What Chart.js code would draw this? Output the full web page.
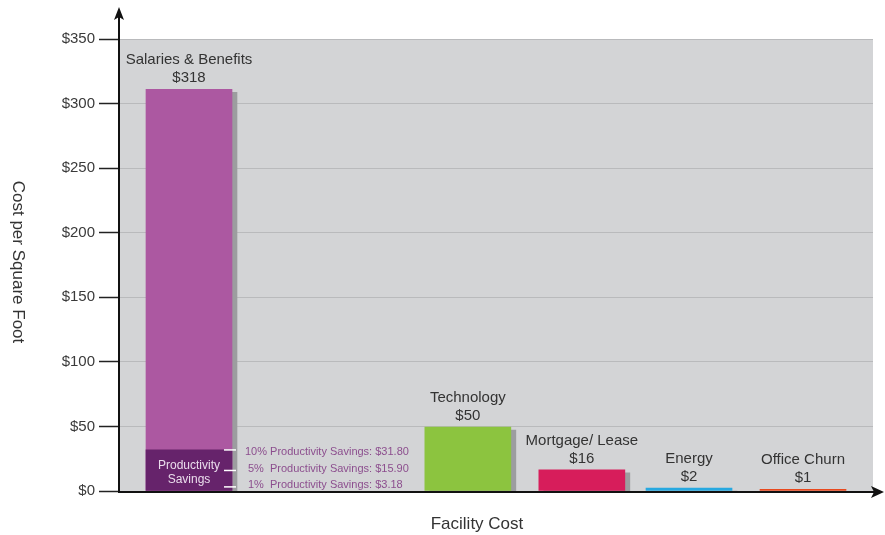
<!DOCTYPE html>
<html>
<head>
<meta charset="utf-8">
<script src="https://cdn.jsdelivr.net/npm/chart.js@4/dist/chart.umd.min.js"></script>
<style>
  body { margin: 0; background: #fff; }
  canvas { display: block; }
</style>
</head>
<body>
<canvas id="myChart" width="885" height="535"></canvas>
<script>
// chart data
const categories = ['Salaries & Benefits', 'Technology', 'Mortgage/ Lease', 'Energy', 'Office Churn'];
const costValues = [311, 49.5, 16.3, 2.3, 1.2];   // bar heights as drawn
const costLabels = ['$318', '$50', '$16', '$2', '$1'];
const savingsValues = [31.8, 15.9, 3.18];
const savingsLabels = ['10% Productivity Savings: $31.80', '5%  Productivity Savings: $15.90', '1%  Productivity Savings: $3.18'];
const yTicks = [0, 50, 100, 150, 200, 250, 300, 350];

// layout: where each bar sits on the (hidden) linear x axis
const slotX = [0.614, 3.06, 4.06, 5.0, 6.0];
const barColors = ['#ac58a1', '#8cc43f', '#d71d5b', '#27a8e0', '#e8491e'];
const savingsTextShift = [2, -1, -2];

const FONT = '"Liberation Sans", Arial, sans-serif';

const bgPlugin = {
  id: 'bg',
  beforeDraw(chart) {
    const {ctx, chartArea: a} = chart;
    ctx.save();
    ctx.fillStyle = '#d3d4d6';
    ctx.fillRect(a.left, a.top, a.right - a.left, a.bottom - a.top);
    ctx.restore();
  }
};

// grey drop shadow on the main bars
const shadowPlugin = {
  id: 'shadow',
  beforeDatasetDraw(chart, args) {
    if (args.index !== 1) return;
    const ctx = chart.ctx;
    ctx.save();
    ctx.shadowColor = '#9c9d9f';
    ctx.shadowOffsetX = 5;
    ctx.shadowOffsetY = 3;
    ctx.shadowBlur = 0;
  },
  afterDatasetDraw(chart, args) {
    if (args.index !== 1) return;
    chart.ctx.restore();
  }
};

const labelPlugin = {
  id: 'labels',
  afterDatasetsDraw(chart) {
    const ctx = chart.ctx;
    const yScale = chart.scales.y;
    const meta = chart.getDatasetMeta(1);
    ctx.save();
    ctx.fillStyle = '#333';
    ctx.font = '15px ' + FONT;
    ctx.textAlign = 'center';
    ctx.textBaseline = 'alphabetic';
    meta.data.forEach((bar, i) => {
      ctx.fillText(categories[i], bar.x, bar.y - 25);
      ctx.fillText(costLabels[i], bar.x, bar.y - 7);
    });

    // productivity savings marks
    const sav = chart.getDatasetMeta(0).data[0];
    const barRight = sav.x + sav.width / 2;
    ctx.strokeStyle = '#ffffff';
    ctx.lineWidth = 1.5;
    ctx.font = '11px ' + FONT;
    ctx.textAlign = 'left';
    ctx.textBaseline = 'middle';
    savingsValues.forEach((v, i) => {
      const py = yScale.getPixelForValue(v);
      ctx.beginPath();
      ctx.moveTo(barRight - 8, py);
      ctx.lineTo(barRight + 4, py);
      ctx.stroke();
      ctx.fillStyle = '#8c4e8e';
      ctx.fillText(savingsLabels[i], barRight + (i === 0 ? 13 : 16), py + savingsTextShift[i]);
    });

    ctx.fillStyle = '#eadcec';
    ctx.font = '12px ' + FONT;
    ctx.textAlign = 'center';
    ctx.textBaseline = 'alphabetic';
    const mid = (sav.y + sav.base) / 2;
    ctx.fillText('Productivity', sav.x, mid - 1.5);
    ctx.fillText('Savings', sav.x, mid + 12.5);
    ctx.restore();
  }
};

// axis lines with arrows and the two axis titles
const axisPlugin = {
  id: 'axes',
  afterDraw(chart) {
    const {ctx, chartArea: a} = chart;
    const axisY = a.bottom + 1;
    ctx.save();
    ctx.strokeStyle = '#111';
    ctx.fillStyle = '#111';
    ctx.lineWidth = 2;
    ctx.beginPath();
    ctx.moveTo(a.left, axisY + 1);
    ctx.lineTo(a.left, 14);
    ctx.moveTo(a.left - 1, axisY);
    ctx.lineTo(a.right + 5, axisY);
    ctx.stroke();

    ctx.beginPath();
    ctx.moveTo(a.left, 7);
    ctx.lineTo(a.left + 5, 20);
    ctx.lineTo(a.left, 17);
    ctx.lineTo(a.left - 5, 20);
    ctx.closePath();
    ctx.fill();

    ctx.beginPath();
    ctx.moveTo(a.right + 11, axisY);
    ctx.lineTo(a.right - 2, axisY - 6);
    ctx.lineTo(a.right + 1, axisY);
    ctx.lineTo(a.right - 2, axisY + 6);
    ctx.closePath();
    ctx.fill();

    ctx.fillStyle = '#333';
    ctx.font = '17px ' + FONT;
    ctx.textAlign = 'center';
    ctx.textBaseline = 'middle';
    ctx.fillText('Facility Cost', 477, 524);

    ctx.translate(18, 262);
    ctx.rotate(Math.PI / 2);
    ctx.fillText('Cost per Square Foot', 0, 0);
    ctx.restore();
  }
};

try {

const ctx = document.getElementById('myChart');

new Chart(ctx, {
  type: 'bar',
  data: {
    datasets: [
      {
        label: 'Productivity Savings',
        data: [{x: slotX[0], y: savingsValues[0]}],
        backgroundColor: '#66236b',
        barThickness: 86,
        grouped: false,
        clip: 0
      },
      {
        label: 'Cost per Square Foot',
        data: categories.map((c, i) => ({x: slotX[i], y: costValues[i]})),
        backgroundColor: barColors,
        barThickness: 86,
        grouped: false,
        clip: 0
      }
    ]
  },
  options: {
    responsive: false,
    animation: false,
    layout: { padding: { left: 0, top: 39, right: 12, bottom: 0 } },
    plugins: {
      legend: { display: false },
      tooltip: { enabled: false }
    },
    scales: {
      x: {
        type: 'linear',
        min: 0,
        max: 6.614,
        offset: false,
        ticks: { display: false },
        grid: { display: false, offset: false },
        border: { display: false },
        afterFit(scale) { scale.height = 44; }
      },
      y: {
        min: 0,
        max: 350,
        afterBuildTicks(scale) { scale.ticks = yTicks.map(v => ({value: v})); },
        ticks: {
          color: '#3a3a3a',
          padding: 4,
          font: { family: FONT, size: 15 },
          callback: v => '$' + v
        },
        grid: {
          color: '#b9babc',
          lineWidth: 1,
          tickColor: '#222',
          tickLength: 20,
          tickWidth: 1.5
        },
        border: { display: false },
        afterFit(scale) { scale.width = 119; }
      }
    }
  },
  plugins: [bgPlugin, shadowPlugin, labelPlugin, axisPlugin]
});

} catch (error) {
console.log(error);
}
</script>
</body>
</html>
